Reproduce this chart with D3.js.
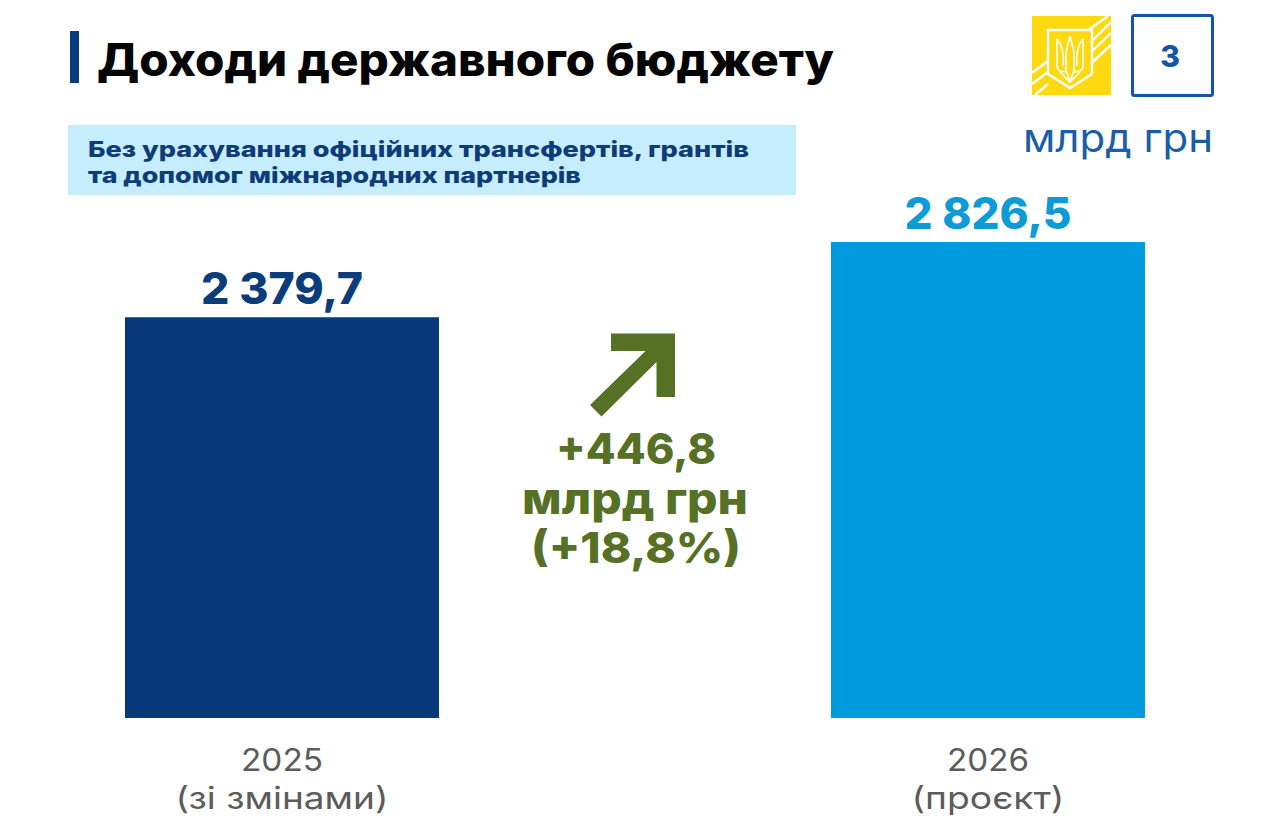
<!DOCTYPE html>
<html><head><meta charset="utf-8">
<script src="https://cdn.jsdelivr.net/npm/d3@7"></script>
<style>html,body{margin:0;padding:0;background:#fff}svg{display:block}text{font-family:Inter,"Noto Sans",sans-serif}</style>
</head><body><svg id="c" width="1267" height="839"></svg>
<script>
const categories=["2025","2026"];
const categoryNotes=["(зі змінами)","(проєкт)"];
const values=[2379.7,2826.5];
const valueLabels=["2 379,7","2 826,5"];
const barColors=["#08397a","#009bde"];
const labelColors=["#0d3c7a","#0d9bd8"];
const titleText="Доходи державного бюджету";
const noteLines=["Без урахування офіційних трансфертів, грантів","та допомог міжнародних партнерів"];
const unitText="млрд грн";
const slideNumber="3";
const changeLines=["+446,8","млрд грн","(+18,8%)"];

const svg=d3.select("#c");
const x=d3.scaleBand().domain(categories).range([125,1145]).paddingInner(0.5552).paddingOuter(0);
const y=d3.scaleLinear().domain([0,2826.5]).range([718,242]);
function t(s,px,py,size,weight,fill,len,anchor){
  const e=svg.append("text").attr("x",px).attr("y",py).attr("font-size",size).attr("font-weight",weight).attr("fill",fill).attr("text-anchor",anchor||"start").text(s);
  if(len)e.attr("textLength",len).attr("lengthAdjust","spacingAndGlyphs");
  return e;
}
// header
svg.append("rect").attr("x",70).attr("y",31).attr("width",9).attr("height",52).attr("fill","#0a3d80");
t(titleText,97,76,45,800,"#050505",737);
svg.append("rect").attr("x",68).attr("y",125).attr("width",728).attr("height",70).attr("fill","#c6edfd");
t(noteLines[0],88,156.5,22,800,"#0d3c78",661);
t(noteLines[1],88,183,22,800,"#0d3c78",493);
// logo
const g=svg.append("g");
g.append("path").attr("d","M1032 16H1111V95H1032Z").attr("fill","#ffd90f");
const stripes=[[1032,73,1048,61],[1032,84,1048,72],[1035,95,1048,84],[1087,46,1111,22],[1087,56,1111,33],[1087,67,1111,45],[1087,31,1108,16]];
stripes.forEach(s=>g.append("line").attr("x1",s[0]).attr("y1",s[1]).attr("x2",s[2]).attr("y2",s[3]).attr("stroke","#fff").attr("stroke-width",2.4));
g.append("path").attr("d","M1048 30H1092V74L1070 88L1048 74Z").attr("fill","#ffd90f").attr("stroke","#fff").attr("stroke-width",2.4);
g.append("path").attr("d","M1070 36L1066 52V70L1070 82L1074 70V52ZM1057 39V66Q1057 72 1066 72M1083 39V66Q1083 72 1074 72M1057 39Q1065 48 1063 66M1083 39Q1075 48 1077 66M1060 72L1070 82L1080 72").attr("fill","none").attr("stroke","#fff").attr("stroke-width",1.6);
svg.append("rect").attr("x",1132.5).attr("y",15.5).attr("width",80).attr("height",80).attr("rx",2).attr("fill","#fff").attr("stroke","#1356a5").attr("stroke-width",3);
t(slideNumber,1170,67,30,800,"#1356a5",null,"middle");
t(unitText,1213,152,39,400,"#1a5ea8",190,"end");
// bars
svg.selectAll("rect.bar").data(values).join("rect").attr("class","bar")
  .attr("x",(d,i)=>x(categories[i])).attr("width",x.bandwidth())
  .attr("y",d=>y(d)).attr("height",d=>y(0)-y(d)).attr("fill",(d,i)=>barColors[i]);
values.forEach((d,i)=>{
  const cx=x(categories[i])+x.bandwidth()/2;
  t(valueLabels[i],cx,y(d)-13,44,800,labelColors[i],i?167:162,"middle");
  t(categories[i],cx,771,31,400,"#5c5c5c",82,"middle");
  t(categoryNotes[i],cx,809,31,400,"#5c5c5c",i?153:213,"middle");
});
// arrow
svg.append("path").attr("d","M611 333.5H675V397H656.5V362L601.5 416.5L590 405L645.5 351H611Z").attr("fill","#567125");
t(changeLines[0],636,464,43,800,"#567125",160,"middle");
t(changeLines[1],635,514,43,800,"#567125",226,"middle");
t(changeLines[2],636,563,43,800,"#567125",210,"middle");
</script></body></html>
